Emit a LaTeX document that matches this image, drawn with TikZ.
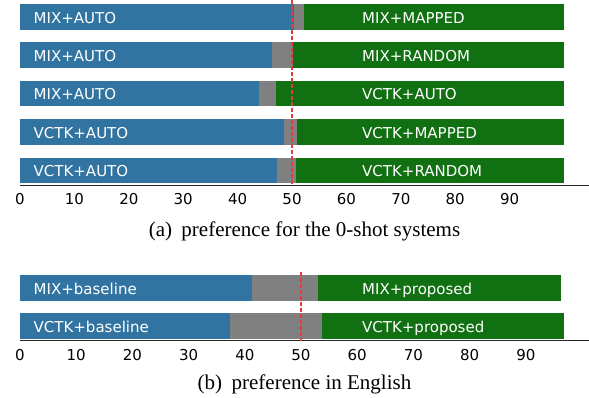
\documentclass[tikz,border=0pt]{standalone}
\usepackage{fontspec}
\setmainfont{Liberation Serif}
\newfontfamily\plotfont{DejaVu Sans}
\definecolor{auto blue}{RGB}{50,116,161}
\definecolor{pref green}{RGB}{17,112,17}
\definecolor{tie gray}{RGB}{128,128,128}
\definecolor{half red}{RGB}{232,58,58}
\tikzset{leftbar/.style={fill=auto blue}}
\tikzset{tiebar/.style={fill=tie gray}}
\tikzset{rightbar/.style={fill=pref green}}
\tikzset{barlabel/.style={text=white, inner sep=0pt, anchor=base west, font=\plotfont\fontsize{15}{18}\selectfont}}
\tikzset{ticklabel/.style={inner sep=0pt, anchor=base, font=\plotfont\fontsize{15}{18}\selectfont}}
\tikzset{axisline/.style={line width=1pt, black!85}}
\tikzset{halfline/.style={half red, line width=1.3pt, dash pattern=on 4pt off 2pt}}
\tikzset{captiontext/.style={inner sep=0pt, anchor=base, font=\fontsize{21}{25}\selectfont}}

\begin{document}
\begin{tikzpicture}[x=1pt, y=-1pt]
    \useasboundingbox (0,0) rectangle (589,398);

    % (a) zero-shot systems
    \begin{scope}[xshift=20pt, x=5.44pt]
        \foreach \row/\lo/\hi/\lname/\rname in {0/50.3/52.2/MIX+AUTO/MIX+MAPPED, 1/46.3/50.2/MIX+AUTO/MIX+RANDOM, 2/43.9/47.1/MIX+AUTO/VCTK+AUTO, 3/48.5/50.9/VCTK+AUTO/VCTK+MAPPED, 4/47.3/50.7/VCTK+AUTO/VCTK+RANDOM} {
            \pgfmathsetmacro{\ya}{4+38.4*\row}
            \pgfmathsetmacro{\yb}{\ya+25.7}
            \fill[leftbar] (0,\ya) rectangle (\lo,\yb);
            \fill[tiebar] (\lo,\ya) rectangle (\hi,\yb);
            \fill[rightbar] (\hi,\ya) rectangle (100,\yb);
            \node[barlabel] (zl\row) at (2.48,\yb-6.6) {\lname};
            \node[barlabel] (zr\row) at (62.87,\yb-6.6) {\rname};
        }
        \draw[axisline] (0,186) -- (104.6,186);
        \foreach \t in {0,10,...,90} {
            \node[ticklabel] (zt\t) at (\t,205) {\t};
        }
        \draw[halfline] (50,0) -- (50,186);
    \end{scope}
    \node[captiontext] (capa) at (304.5,236.3) {(a)\hspace{.45em}preference for the 0-shot systems};

    % (b) English
    \begin{scope}[xshift=20pt, x=5.62pt]
        \foreach \row/\lo/\hi/\en/\lname/\rname in {0/41.2/53.0/96.2/MIX+baseline/MIX+proposed, 1/37.4/53.7/96.8/VCTK+baseline/VCTK+proposed} {
            \pgfmathsetmacro{\ya}{275+37.7*\row}
            \pgfmathsetmacro{\yb}{\ya+25.9}
            \fill[leftbar] (0,\ya) rectangle (\lo,\yb);
            \fill[tiebar] (\lo,\ya) rectangle (\hi,\yb);
            \fill[rightbar] (\hi,\ya) rectangle (\en,\yb);
            \node[barlabel] (el\row) at (2.40,\yb-6.6) {\lname};
            \node[barlabel] (er\row) at (60.85,\yb-6.6) {\rname};
        }
        \draw[axisline] (0,340.7) -- (101.3,340.7);
        \foreach \t in {0,10,...,90} {
            \node[ticklabel] (et\t) at (\t,360.2) {\t};
        }
        \draw[halfline] (50,272) -- (50,340.7);
    \end{scope}
    \node[captiontext] (capb) at (304.5,389.3) {(b)\hspace{.45em}preference in English};
\end{tikzpicture}
\end{document}
